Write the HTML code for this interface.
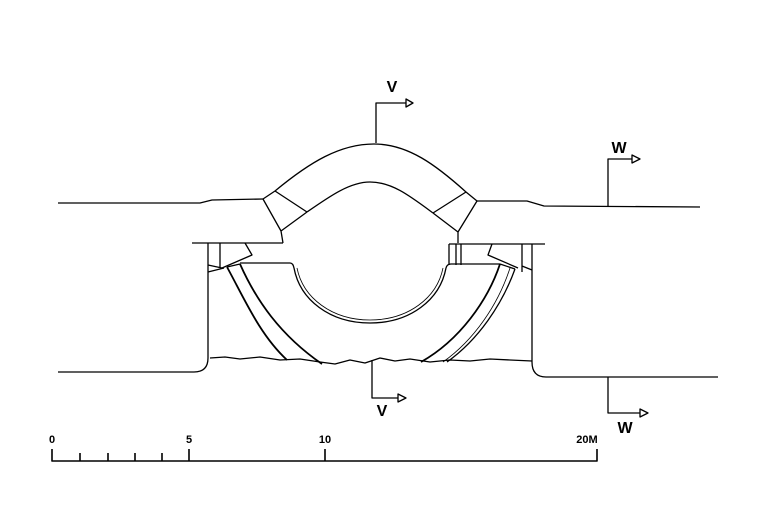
<!DOCTYPE html>
<html><head><style>html,body{margin:0;padding:0;background:#fff}svg{display:block}</style></head>
<body>
<svg width="768" height="512" viewBox="0 0 768 512" xmlns="http://www.w3.org/2000/svg" fill="none" stroke="#000" stroke-width="1.3" stroke-linejoin="round">
<!-- roads top -->
<path d="M58,203 L200,203 L212,200 L263,199"/>
<path d="M477,201 L527,201 L544,206 L700,207"/>
<!-- arch -->
<path d="M263,199 L275,191 C310,162 340,144 374,144 C408,144 436,165 466,192 L477,201"/>
<path d="M307,212 C330,196 350,182 370,182 C392,182 410,196 433,213"/>
<path d="M275,191 L307,212 M466,192 L433,213"/>
<path d="M263,199 L281,231 L283,243 M281,231 L307,212"/>
<path d="M477,201 L458,232 L458,243 M458,232 L433,213"/>
<!-- plates -->
<path d="M192,243 L283,243 M449,244 L545,244"/>
<!-- walls bottom -->
<path d="M208,243 L208,358 Q208,372 194,372 L58,372"/>
<path d="M532,244 L532,362 Q532,377 546,377 L718,377"/>
<!-- small details left -->
<path d="M220,243 L220,268 M245,243 L252,255 L222,268 M208,265 L222,268 M208,272 L224,268"/>
<path d="M449,244 L449,265 M456,244 L456,265 M461,244 L461,265 M492,244 L488,255 L518,268 M522,244 L522,272 M532,270 L522,266"/>
<!-- bowl -->
<path d="M240,263 L290,263 Q293,263 294,268 C300,300 330,323 370,323 C410,323 440,300 446,268 Q447,264 451,264 L500,264"/>
<path d="M297,268 C303,298 332,320 370,320 C408,320 437,298 443,268" stroke-width="0.8"/>
<!-- bands -->
<path d="M227,267 C245,300 260,335 287,360" stroke-width="1.8"/>
<path d="M240,264 C256,300 280,335 322,364" stroke-width="1.8"/>
<path d="M227,267 L240,264"/>
<path d="M500,264 C488,300 460,340 421,362" stroke-width="1.8"/>
<path d="M515,269 C502,305 478,340 447,362" stroke-width="1.3"/>
<path d="M510,268 C498,305 474,340 443,362" stroke-width="0.8"/>
<path d="M500,264 L515,269"/>
<!-- ground -->
<path d="M210,358 L225,357 L240,359 L260,357 L280,360 L300,359 L320,362 L335,364 L350,360 L365,363 L380,358 L395,361 L410,359 L430,362 L450,360 L470,361 L490,359 L510,360 L532,361"/>
<!-- section markers -->
<path d="M376,143 L376,103 L406,103"/><path d="M406,99 L413,103 L406,107 Z"/>
<path d="M608,206 L608,159 L632,159"/><path d="M632,155 L640,159 L632,163 Z"/>
<path d="M372,360 L372,398 L398,398"/><path d="M398,394 L406,398 L398,402 Z"/>
<path d="M608,377 L608,413 L640,413"/><path d="M640,409 L648,413 L640,417 Z"/>
<!-- scale -->
<path d="M52,449 L52,461 L597,461 L597,449 M189,449 L189,461 M325,449 L325,461 M80,453 L80,461 M108,453 L108,461 M135,453 L135,461 M162,453 L162,461" stroke-width="1.6"/>
<g fill="#000" stroke="none" font-family="Liberation Sans, sans-serif" font-weight="bold">
<text x="392" y="92" font-size="16" text-anchor="middle">V</text>
<text x="619" y="153" font-size="16" text-anchor="middle">W</text>
<text x="382" y="416" font-size="16" text-anchor="middle">V</text>
<text x="625" y="433" font-size="16" text-anchor="middle">W</text>
<text x="52" y="443" font-size="11" text-anchor="middle">0</text>
<text x="189" y="443" font-size="11" text-anchor="middle">5</text>
<text x="325" y="443" font-size="11" text-anchor="middle">10</text>
<text x="587" y="443" font-size="11" text-anchor="middle">20M</text>
</g>
</svg>
</body></html>
